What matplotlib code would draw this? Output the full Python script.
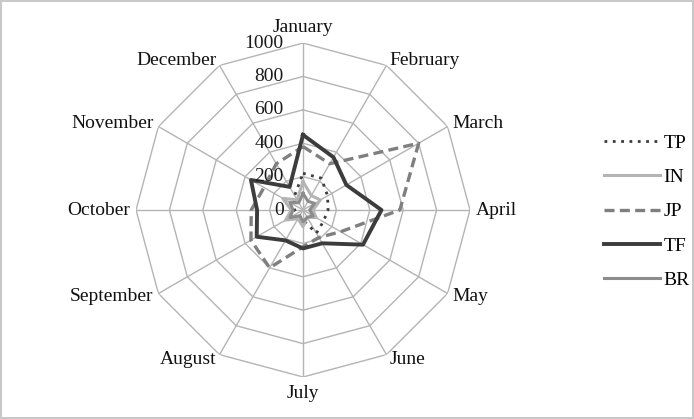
import numpy as np
import matplotlib
matplotlib.use("Agg")
from matplotlib import pyplot as plt

months = ["January", "February", "March", "April", "May", "June",
          "July", "August", "September", "October", "November", "December"]
ring_values = [200, 400, 600, 800, 1000]
tick_labels = ["0", "200", "400", "600", "800", "1000"]

tp = [220, 220, 170, 150, 140, 160, 60, 40, 40, 50, 60, 100]
in_ = [170, 100, 120, 60, 90, 50, 100, 60, 120, 70, 140, 70]
jp = [380, 320, 800, 580, 260, 190, 220, 400, 360, 310, 270, 320]
tf = [450, 365, 300, 470, 415, 230, 230, 210, 320, 275, 360, 160]
br = [100, 60, 80, 40, 70, 50, 70, 40, 90, 60, 90, 50]

series = [
    ("TP", tp, dict(color="#3c3c3c", linestyle=(0, (1, 2)), linewidth=2.0)),
    ("IN", in_, dict(color="#b4b4b4", linestyle="-", linewidth=2.2)),
    ("JP", jp, dict(color="#7f7f7f", linestyle=(0, (3, 1.6)), linewidth=2.4)),
    ("TF", tf, dict(color="#3c3c3c", linestyle="-", linewidth=2.8)),
    ("BR", br, dict(color="#8c8c8c", linestyle="-", linewidth=2.2)),
]

plt.rcParams["font.family"] = ["Liberation Serif", "DejaVu Serif"]
fs = 14

fig = plt.figure(figsize=(6.94, 4.19), dpi=100, edgecolor="#c8c8c8", linewidth=1.5)
ax = fig.add_axes([0.196, 0.1002, 0.4812, 0.7971], projection="polar")
ax.set_theta_offset(np.pi / 2)
ax.set_theta_direction(-1)
ax.set_ylim(0, 1000)
ax.grid(False)
ax.spines["polar"].set_visible(False)
ax.set_xticks([])
ax.set_yticks([])
ax.patch.set_alpha(0)

theta = np.linspace(0, 2 * np.pi, len(months), endpoint=False)
theta_c = np.append(theta, theta[0])

grid_kw = dict(color="#b4b4b4", linewidth=1.0, zorder=1)
for rv in ring_values:
    ax.plot(theta_c, [rv] * len(theta_c), **grid_kw)
for t in theta:
    ax.plot([t, t], [0, 1000], **grid_kw)

for name, vals, style in series:
    ax.plot(theta_c, vals + vals[:1], label=name, zorder=3, **style)

# value labels on the January axis
for rv, lab in zip([0] + ring_values, tick_labels):
    ax.annotate(lab, xy=(0, rv), xytext=(-14, 0), textcoords="offset points",
                ha="right", va="center", fontsize=fs, color="#1a1a1a", zorder=4)

# month labels round the outside
for t, m in zip(theta, months):
    sx, sy = np.sin(t), np.cos(t)
    ha = "center" if abs(sx) < 0.01 else ("left" if sx > 0 else "right")
    if abs(sx) < 0.01:
        va = "bottom" if sy > 0 else "top"
        r = 1045
    else:
        va = "center"
        r = 1035
    ax.text(t, r, m, ha=ha, va=va, fontsize=fs, color="#111111")

fig.legend(loc="center left", bbox_to_anchor=(0.845, 0.495), frameon=False,
           fontsize=fs, handlelength=2.9, handletextpad=0.15, labelspacing=0.85)

fig.savefig("out.png", dpi=100, edgecolor=fig.get_edgecolor())
